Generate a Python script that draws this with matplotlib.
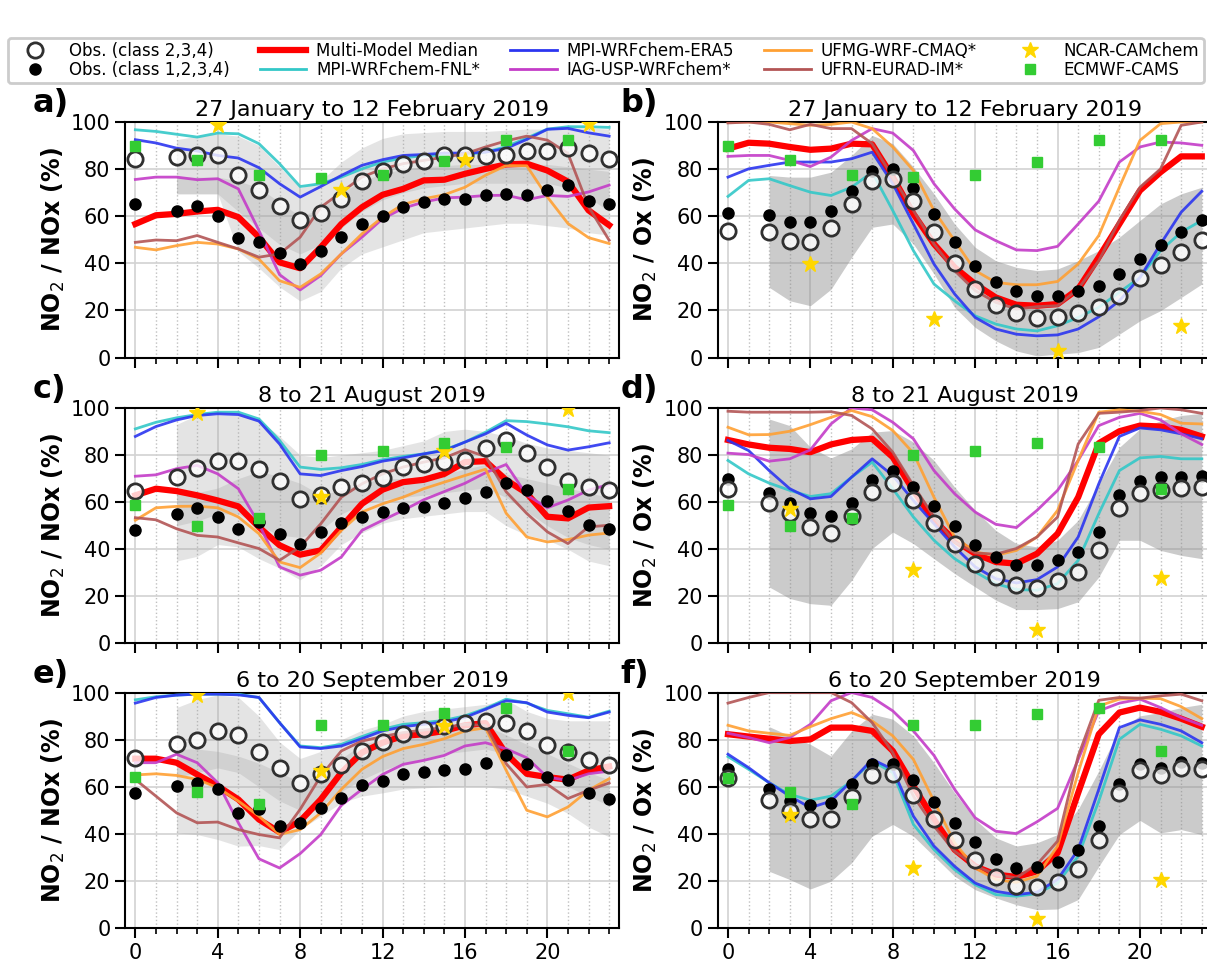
"""Diurnal NO2/NOx and NO2/Ox ratios: observations against the model ensemble."""

import matplotlib
matplotlib.use("Agg")
import matplotlib.pyplot as plt
import numpy as np
from matplotlib.lines import Line2D

nan = np.nan

# Hours of the day and the sparse hours of the global models.
hours = np.arange(24)
band_hours = np.arange(2, 24)
ncar_hours_jan = [4, 10, 16, 22]
ncar_hours = [3, 9, 15, 21]
cams_hours = [0, 3, 6, 9, 12, 15, 18, 21]

titles = ["27 January to 12 February 2019", "27 January to 12 February 2019",
          "8 to 21 August 2019", "8 to 21 August 2019",
          "6 to 20 September 2019", "6 to 20 September 2019"]
letters = ["a)", "b)", "c)", "d)", "e)", "f)"]

# ---- a) NO2/NOx, Jan-Feb ----
a_obs234 = [84.1, nan, 85.1, 86.2, 86.2, 77.6, 71.2, 64.3, 58.2, 61.3, 67.4, 74.8,
            79.4, 82.3, 83.3, 85.8, 86.2, 85.5, 85.8, 87.5, 87.5, 88.9, 87.0, 84.1]
a_obs1234 = [65.2, nan, 62.1, 64.5, 60.3, 50.8, 49.2, 44.3, 39.7, 45.4, 51.3, 56.5,
             59.9, 63.7, 66.1, 67.5, 67.5, 69.1, 69.5, 69.2, 71.3, 73.2, 66.3, 65.1]
a_median = [56.7, 60.4, 61.0, 62.0, 62.7, 59.6, 51.1, 40.4, 37.9, 46.8, 56.7, 63.8,
            69.1, 71.6, 75.2, 75.5, 78.0, 80.1, 82.0, 82.3, 79.4, 74.7, 62.5, 56.2]
a_fnl = [96.7, 96.0, 94.8, 93.6, 95.3, 95.0, 90.8, 82.3, 72.6, 73.8, 76.6, 80.1,
         83.0, 84.7, 85.8, 85.8, 86.2, 87.2, 89.5, 93.2, 97.0, 98.0, 98.0, 97.7]
a_era5 = [92.5, 91.1, 88.9, 87.7, 85.8, 84.7, 80.6, 73.8, 68.1, 72.6, 77.3, 81.6,
          84.0, 85.8, 86.2, 86.8, 86.8, 87.2, 88.8, 92.6, 96.9, 97.3, 95.4, 94.0]
a_iag = [75.6, 76.6, 76.6, 75.5, 75.9, 71.6, 53.9, 35.2, 28.7, 34.8, 44.0, 51.1,
         58.9, 63.4, 66.0, 67.8, 68.1, 68.8, 68.9, 67.0, 68.8, 68.4, 70.3, 73.2]
a_ufmg = [46.8, 45.7, 47.5, 48.9, 48.2, 46.1, 41.8, 32.6, 29.8, 35.5, 44.0, 52.5,
          59.6, 65.0, 67.4, 69.1, 72.3, 77.4, 81.5, 81.4, 68.2, 56.9, 50.9, 48.4]
a_ufrn = [48.9, 49.9, 49.6, 51.8, 48.9, 46.1, 42.6, 44.0, 51.1, 63.8, 70.2, 76.6,
          80.1, 82.3, 83.7, 85.1, 86.5, 89.4, 92.0, 94.0, 92.3, 86.7, 64.0, 49.8]
a_ncar = [98.6, 71.2, 83.7, 99.1]
a_cams = [89.8, 83.7, 77.3, 76.3, 77.3, 83.4, 92.5, 92.5]
a_band1_hi = [92.5, 94, 95, 94, 90, 81, 72, 75, 83, 89, 93, 95, 95.5, 96, 96, 96,
              96.5, 97, 97, 97.5, 97.5, 97]
a_band1_lo = [69.5, 69.5, 69.5, 62, 55, 48, 44, 48, 55, 62, 67, 70, 72, 73, 74, 74,
              74, 74, 74, 72, 68, 62]
a_band2_hi = [76.6, 76.6, 76.6, 75, 72, 66, 60, 63, 70, 75, 78, 80, 81, 81.5, 82, 82,
              82, 82, 82, 81, 80, 79]
a_band2_lo = [69.5, 69.5, 69.5, 45, 38, 30, 24, 28, 38, 44, 47, 50, 53, 54, 55, 56,
              57, 57, 56, 55, 53, 52]

# ---- b) NO2/Ox, Jan-Feb ----
b_obs234 = [53.9, nan, 53.2, 49.6, 48.9, 55.0, 65.0, 74.9, 75.9, 66.4, 53.2, 40.0,
            29.1, 22.4, 18.9, 16.7, 17.0, 18.9, 21.3, 26.2, 33.8, 39.3, 44.7, 49.9]
b_obs1234 = [61.3, nan, 60.6, 57.4, 57.4, 62.1, 70.6, 79.4, 80.1, 72.0, 61.0, 48.9,
             38.7, 32.2, 28.4, 26.2, 26.2, 28.1, 30.2, 35.5, 41.8, 47.8, 53.5, 58.4]
b_median = [88.7, 91.2, 90.8, 89.4, 88.2, 88.7, 90.8, 90.5, 76.6, 61.0, 48.2, 38.3,
            31.2, 25.5, 22.4, 22.0, 22.7, 29.1, 42.6, 56.7, 70.9, 78.7, 85.4, 85.4]
b_fnl = [68.4, 75.2, 75.9, 73.0, 70.2, 68.8, 72.3, 78.7, 62.4, 45.4, 31.2, 24.1,
         17.7, 14.2, 12.1, 11.3, 13.5, 17.0, 21.3, 27.7, 34.0, 45.4, 53.2, 58.2]
b_era5 = [76.6, 80.1, 81.6, 83.0, 83.0, 83.0, 84.4, 87.2, 73.8, 56.7, 39.7, 27.0,
          17.0, 12.1, 9.9, 9.2, 9.6, 12.1, 17.3, 24.1, 34.0, 48.2, 61.7, 70.6]
b_iag = [85.4, 85.8, 85.8, 83.7, 81.1, 85.1, 92.2, 97.2, 95.3, 87.9, 73.8, 63.1,
         54.2, 49.6, 45.7, 45.4, 47.2, 56.7, 66.4, 83.0, 89.4, 91.5, 91.1, 90.1]
b_ufmg = [100, 100, 100, 99.3, 98.6, 99.0, 100, 97.2, 89.4, 79.4, 62.4, 49.6,
          36.9, 31.9, 30.9, 30.9, 32.3, 39.7, 51.8, 72.3, 92.2, 99.3, 100, 100]
b_ufrn = [99.6, 100, 99.0, 96.7, 99.0, 97.2, 97.2, 90.8, 76.6, 62.4, 48.2, 36.9,
          28.4, 23.4, 20.6, 21.6, 22.0, 29.1, 41.1, 58.2, 72.3, 80.1, 98.6, 100]
b_ncar = [39.7, 16.3, 2.8, 13.5]
b_cams = [89.8, 83.7, 77.3, 76.6, 77.3, 83.0, 92.5, 92.5]
b_band_hi = [77.3, 76.6, 76.6, 78.7, 85.8, 94.3, 90.8, 80.9, 69.5, 56.7, 46.8, 41.1,
             38.3, 36.9, 37.6, 41.1, 45.4, 51.1, 58.2, 65.2, 69.5, 72.3]
b_band_lo = [29.8, 24.1, 22.0, 29.0, 42.6, 55.3, 56.7, 48.2, 35.5, 21.3, 12.8, 7.1,
             2.8, 0.7, 1.4, 2.1, 4.3, 9.9, 15.6, 19.9, 25.5, 31.2]

# ---- c) NO2/NOx, August ----
c_obs234 = [64.7, nan, 70.6, 74.4, 77.3, 77.3, 74.2, 68.8, 61.4, 62.9, 66.4, 68.2,
            70.3, 74.9, 76.0, 77.0, 78.0, 82.9, 86.6, 80.8, 74.9, 68.8, 66.4, 65.1]
c_obs1234 = [48.3, nan, 54.8, 57.6, 53.7, 48.7, 51.6, 46.3, 42.4, 47.3, 51.3, 53.7,
             55.8, 57.6, 57.9, 59.6, 61.9, 64.3, 68.1, 65.3, 60.5, 56.2, 50.2, 48.4]
c_median = [62.9, 65.7, 64.7, 62.9, 60.7, 58.2, 49.4, 41.7, 37.7, 39.5, 49.4, 59.3,
            65.3, 68.5, 69.5, 72.0, 77.0, 77.4, 69.4, 63.8, 53.8, 53.1, 57.7, 58.3]
c_fnl = [91.1, 93.9, 95.8, 97.2, 98.2, 98.2, 95.3, 86.2, 74.9, 73.9, 74.6, 76.0,
         78.0, 79.4, 80.5, 82.2, 85.5, 89.7, 94.6, 94.2, 93.2, 92.0, 90.3, 89.5]
c_era5 = [87.9, 92.1, 94.9, 96.8, 97.5, 97.2, 94.4, 84.7, 72.0, 71.3, 73.4, 75.1,
          77.4, 78.8, 80.5, 81.9, 85.5, 89.0, 93.5, 88.5, 84.3, 82.1, 83.5, 85.2]
c_iag = [71.0, 71.6, 74.2, 75.6, 72.0, 65.7, 50.8, 32.5, 29.0, 31.1, 36.7, 48.0,
         52.3, 56.5, 61.0, 64.5, 68.0, 72.5, 76.0, 63.0, 57.6, 60.9, 65.1, 67.5]
c_ufmg = [52.3, 57.6, 58.2, 58.3, 57.6, 53.7, 46.6, 34.6, 32.2, 38.4, 48.0, 55.8,
          59.3, 62.1, 65.7, 68.5, 71.3, 74.0, 55.3, 45.2, 43.1, 44.1, 46.0, 46.9]
c_ufrn = [53.4, 52.5, 48.7, 45.9, 45.2, 42.7, 40.3, 35.3, 41.0, 50.8, 62.1, 67.8,
          72.0, 74.9, 77.0, 78.8, 82.3, 79.4, 64.4, 55.2, 47.4, 42.4, 49.5, 50.2]
c_ncar = [97.9, 62.1, 81.9, 99.6]
c_cams = [58.6, 49.7, 53.4, 80.2, 81.9, 85.0, 83.6, 65.7]
c_band1_hi = [93, 97, 97, 97, 95, 88, 80, 79, 80, 81, 82, 84, 86, 90, 91, 90, 88,
              85, 83, 82, 81, 80]
c_band1_lo = [50, 52, 55, 55, 50, 46, 45, 48, 55, 59, 61, 62, 63, 64, 65, 66, 62,
              56, 50, 45, 42, 40]
c_band2_hi = [64, 64, 66, 70, 73, 71, 68, 63, 65, 68, 70, 70, 71, 72, 74, 76, 72,
              70, 68, 66, 64, 62]
c_band2_lo = [35, 37, 42, 41, 36, 32, 27, 33, 42, 47, 51, 53, 54, 55, 56, 56, 50,
              46, 44, 40, 35, 33]

# ---- d) NO2/Ox, August ----
d_obs234 = [65.7, nan, 59.6, 55.4, 49.4, 47.0, 54.1, 64.3, 68.2, 60.7, 51.1, 42.1,
            33.9, 28.2, 24.7, 23.7, 26.6, 30.4, 39.5, 57.5, 63.8, 65.3, 66.1, 66.4]
d_obs1234 = [69.9, nan, 64.0, 59.6, 55.4, 54.0, 59.6, 69.2, 73.4, 66.4, 58.2, 49.7,
             41.9, 36.7, 33.2, 33.2, 35.6, 38.8, 47.3, 62.9, 68.8, 70.6, 70.6, 70.9]
d_median = [86.4, 84.5, 83.1, 82.6, 81.2, 84.5, 86.4, 86.9, 79.1, 65.0, 52.3, 43.8,
            38.1, 34.6, 33.9, 38.1, 46.6, 62.1, 85.0, 90.1, 92.5, 92.1, 90.7, 87.9]
d_fnl = [77.7, 72.0, 68.1, 65.0, 62.4, 63.6, 70.6, 77.0, 65.7, 53.7, 43.8, 36.0,
         30.4, 25.4, 22.9, 22.6, 25.4, 35.3, 55.1, 73.4, 78.8, 79.4, 78.4, 78.4]
d_era5 = [86.2, 81.9, 73.4, 65.7, 61.4, 62.4, 70.6, 78.4, 71.3, 60.7, 50.8, 41.0,
          32.5, 27.5, 25.7, 27.1, 32.5, 45.2, 67.8, 87.9, 91.5, 90.7, 89.0, 86.9]
d_iag = [80.8, 80.2, 77.4, 78.4, 82.2, 93.2, 100, 99.2, 93.9, 86.9, 73.4, 63.6,
         55.8, 50.6, 49.2, 56.5, 65.0, 77.7, 92.5, 96.0, 97.7, 94.9, 89.0, 84.5]
d_ufmg = [91.8, 88.6, 88.7, 90.1, 92.9, 96.0, 98.9, 96.3, 90.4, 80.8, 62.1, 45.2,
          38.8, 37.4, 39.5, 45.2, 56.5, 77.7, 98.2, 99.2, 98.6, 97.2, 93.5, 93.2]
d_ufrn = [98.6, 98.2, 98.2, 98.2, 98.2, 98.4, 96.8, 91.1, 81.2, 67.1, 53.7, 43.1,
          38.4, 37.9, 40.3, 45.2, 53.7, 84.7, 97.7, 98.2, 98.9, 100, 99.2, 97.7]
d_ncar = [57.2, 31.1, 5.9, 28.0]
d_cams = [58.6, 49.7, 53.4, 80.2, 81.9, 85.0, 83.6, 65.7]
d_band_hi = [95.3, 92.5, 83.3, 78.8, 82.6, 89.7, 90.4, 85.5, 77.7, 66.4, 56.5, 48.0,
             42.4, 41.0, 43.8, 52.3, 67.8, 83.3, 91.1, 94.6, 96.8, 97.7]
d_band_lo = [24.0, 19.1, 16.9, 16.2, 26.8, 40.3, 47.3, 42.4, 36.0, 29.7, 24.0, 18.4,
             14.4, 14.4, 14.8, 17.7, 28.2, 43.8, 43.8, 39.5, 37.4, 36.0]

# ---- e) NO2/NOx, September ----
e_obs234 = [72.3, nan, 78.3, 79.9, 83.7, 81.8, 74.8, 67.8, 61.4, 65.5, 69.2, 75.2,
            79.1, 82.3, 84.7, 85.8, 87.0, 87.9, 87.0, 83.7, 77.7, 74.8, 71.2, 69.4]
e_obs1234 = [57.2, nan, 60.3, 61.4, 59.1, 48.9, 50.4, 43.5, 44.7, 51.1, 55.3, 60.6,
             62.4, 65.2, 66.2, 67.1, 67.7, 69.9, 73.3, 69.5, 64.3, 62.8, 57.3, 55.0]
e_median = [71.9, 71.9, 70.2, 65.2, 60.3, 54.6, 46.1, 40.7, 45.4, 54.6, 66.0, 74.5,
            78.7, 81.6, 82.3, 83.7, 86.1, 87.0, 74.0, 65.5, 64.1, 63.0, 66.9, 68.6]
e_fnl = [96.9, 98.2, 98.9, 99.3, 99.3, 99.3, 97.9, 87.2, 77.3, 76.6, 78.0, 81.3,
         84.4, 86.5, 87.2, 88.2, 90.1, 93.2, 97.2, 95.5, 92.4, 91.0, 89.5, 92.1]
e_era5 = [95.5, 97.9, 98.9, 99.3, 99.3, 99.0, 97.9, 87.2, 76.9, 76.2, 77.3, 80.4,
          83.7, 85.5, 86.5, 87.5, 89.4, 92.9, 96.5, 95.7, 91.7, 90.3, 89.3, 91.7]
e_iag = [70.2, 70.2, 73.8, 70.2, 61.7, 44.7, 29.4, 25.5, 31.6, 39.7, 52.1, 58.9,
         65.2, 69.5, 71.2, 73.3, 77.3, 78.7, 76.1, 72.3, 64.1, 62.7, 65.5, 66.6]
e_ufmg = [65.0, 65.5, 64.8, 63.1, 59.6, 53.9, 47.5, 39.7, 41.8, 48.9, 58.9, 67.4,
          72.8, 76.2, 78.0, 80.4, 83.7, 85.0, 67.0, 50.0, 47.2, 51.4, 58.5, 63.4]
e_ufrn = [63.1, 56.0, 48.9, 44.7, 45.0, 41.8, 39.7, 38.3, 50.4, 64.5, 75.2, 79.4,
          81.3, 83.0, 84.1, 85.1, 86.5, 86.0, 69.8, 59.9, 61.0, 55.0, 58.5, 61.6]
e_ncar = [98.9, 66.7, 85.8, 99.6]
e_cams = [64.1, 57.7, 52.8, 86.1, 86.4, 91.1, 93.6, 75.2]
e_band1_hi = [93.6, 97, 99, 98, 90, 79, 72, 75, 80, 84, 86.5, 90, 92, 93, 94, 95,
              97, 92, 89, 88, 88, 88]
e_band1_lo = [64, 66, 68, 66, 60, 54, 50, 52, 58, 63, 67, 70, 72, 74, 75, 76, 74,
              70, 66, 60, 56, 52]
e_band2_hi = [76, 76, 75, 73, 70, 66, 62, 65, 72, 78, 80, 82, 84, 85, 86, 86, 82,
              78, 74, 70, 66, 63]
e_band2_lo = [40.4, 39.7, 37.6, 34.8, 35, 33.3, 41.8, 47.5, 53.2, 56, 57.4, 59, 59.5,
              60, 60, 60, 59, 56, 53, 48.7, 42.9, 38.7]

# ---- f) NO2/Ox, September ----
f_obs234 = [63.8, nan, 54.3, 49.6, 46.5, 46.1, 55.7, 64.8, 65.2, 56.7, 46.1, 37.3,
            29.1, 21.7, 17.7, 17.4, 19.6, 25.2, 37.3, 57.2, 67.1, 64.8, 68.1, 67.4]
f_obs1234 = [67.4, nan, 59.1, 53.9, 52.1, 52.9, 61.0, 69.5, 69.5, 62.8, 53.6, 44.7,
             36.5, 29.4, 25.5, 26.0, 28.1, 33.3, 43.3, 61.0, 69.5, 68.1, 70.5, 70.2]
f_median = [82.3, 81.3, 80.4, 79.4, 80.1, 85.1, 85.1, 83.7, 75.2, 60.3, 46.1, 33.3,
            26.2, 22.7, 21.7, 24.1, 31.9, 57.4, 82.3, 91.5, 93.6, 91.8, 88.9, 85.5]
f_fnl = [72.8, 67.4, 61.7, 56.7, 54.3, 56.0, 62.4, 70.9, 66.0, 44.0, 33.3, 24.8,
         18.4, 14.2, 13.5, 14.6, 19.1, 30.5, 53.9, 80.1, 86.5, 84.4, 81.6, 77.3]
f_era5 = [73.8, 68.1, 61.7, 56.0, 51.1, 53.9, 62.4, 71.6, 67.4, 47.5, 34.8, 26.2,
          19.1, 15.6, 14.2, 15.2, 20.6, 33.3, 58.9, 85.1, 88.4, 86.5, 83.7, 78.7]
f_iag = [82.7, 80.9, 78.7, 80.9, 86.5, 96.5, 100, 97.9, 92.2, 83.7, 73.3, 58.9,
         46.8, 41.1, 40.1, 45.1, 50.8, 71.6, 92.2, 95.5, 97.2, 93.6, 89.4, 86.1]
f_ufmg = [86.1, 83.7, 82.7, 81.8, 85.5, 88.9, 91.5, 87.9, 81.6, 71.6, 53.9, 36.2,
          25.5, 20.6, 19.4, 22.0, 34.8, 66.0, 94.3, 97.2, 97.6, 97.4, 94.0, 88.9]
f_ufrn = [95.5, 97.9, 100, 100, 100, 100, 95.7, 87.2, 74.5, 56.0, 43.3, 32.6,
          26.5, 22.7, 21.3, 27.0, 36.9, 73.0, 96.7, 97.9, 97.6, 98.6, 99.3, 96.5]
f_ncar = [48.2, 25.5, 3.8, 20.6]
f_cams = [63.8, 57.7, 52.5, 86.1, 86.4, 90.8, 93.6, 75.2]
f_band_hi = [85.5, 81.6, 78.0, 73.0, 83.7, 90.8, 88.7, 81.6, 70.2, 57.4, 46.1, 38.3,
             34.8, 36.2, 39.7, 50.4, 66.7, 84.4, 90.1, 91.5, 93.6, 95.0]
f_band_lo = [24.1, 20.6, 16.6, 19.9, 27.7, 39.0, 44.0, 39.0, 30.5, 22.0, 16.3, 12.8,
             9.9, 7.8, 8.1, 12.1, 26.2, 39.7, 45.7, 40.4, 41.8, 39.7]

MODEL_COLORS = ["#33c8c8", "#2b35f0", "#c43cc8", "#ffa033", "#b35555"]
MODEL_LABELS = ["MPI-WRFchem-FNL*", "MPI-WRFchem-ERA5", "IAG-USP-WRFchem*",
                "UFMG-WRF-CMAQ*", "UFRN-EURAD-IM*"]

panels = [
    (a_obs234, a_obs1234, a_median, [a_fnl, a_era5, a_iag, a_ufmg, a_ufrn],
     ncar_hours_jan, a_ncar, a_cams,
     [(a_band1_lo, a_band1_hi), (a_band2_lo, a_band2_hi)]),
    (b_obs234, b_obs1234, b_median, [b_fnl, b_era5, b_iag, b_ufmg, b_ufrn],
     ncar_hours_jan, b_ncar, b_cams, [(b_band_lo, b_band_hi)]),
    (c_obs234, c_obs1234, c_median, [c_fnl, c_era5, c_iag, c_ufmg, c_ufrn],
     ncar_hours, c_ncar, c_cams,
     [(c_band1_lo, c_band1_hi), (c_band2_lo, c_band2_hi)]),
    (d_obs234, d_obs1234, d_median, [d_fnl, d_era5, d_iag, d_ufmg, d_ufrn],
     ncar_hours, d_ncar, d_cams, [(d_band_lo, d_band_hi)]),
    (e_obs234, e_obs1234, e_median, [e_fnl, e_era5, e_iag, e_ufmg, e_ufrn],
     ncar_hours, e_ncar, e_cams,
     [(e_band1_lo, e_band1_hi), (e_band2_lo, e_band2_hi)]),
    (f_obs234, f_obs1234, f_median, [f_fnl, f_era5, f_iag, f_ufmg, f_ufrn],
     ncar_hours, f_ncar, f_cams, [(f_band_lo, f_band_hi)]),
]

OPEN_KW = dict(marker="o", ls="none", mfc=(1, 1, 1, 0.8), mec="#303030", mew=2, ms=11)
DOT_KW = dict(marker="o", ls="none", color="black", ms=8)
STAR_KW = dict(marker="*", ls="none", color="gold", ms=12)
SQUARE_KW = dict(marker="s", ls="none", color="#33cc33", ms=6.5)

fig = plt.figure(figsize=(12.07, 9.66), dpi=100)

# Axes positions (the right column runs slightly past the figure edge).
col_left = [0.1036, 0.5946]
row_bottom = [0.6299, 0.3339, 0.0393]
width, height = 0.4096, 0.2438

for i, (obs234, obs1234, median, models, ncar_x, ncar, cams, bands) in enumerate(panels):
    row, col = divmod(i, 2)
    ax = fig.add_axes([col_left[col], row_bottom[row], width, height])

    # Observation spread.
    if len(bands) == 1:
        lo, hi = bands[0]
        ax.fill_between(band_hours, lo, hi, color="#8c8c8c", alpha=0.45, lw=0, zorder=1)
    else:
        for lo, hi in bands:
            ax.fill_between(band_hours, lo, hi, color="#a0a0a0", alpha=0.28, lw=0, zorder=1)

    ax.plot(hours, median, color="red", lw=4.5, zorder=3)
    for vals, color in zip(models, MODEL_COLORS):
        ax.plot(hours, vals, color=color, lw=2, alpha=0.9, zorder=3)
    ax.plot(hours, obs1234, zorder=5, **DOT_KW)
    ax.plot(hours, obs234, zorder=6, **OPEN_KW)
    ax.plot(ncar_x, ncar, zorder=7, **STAR_KW)
    ax.plot(cams_hours, cams, zorder=7, **SQUARE_KW)

    ax.set_xlim(-0.5, 23.5)
    ax.set_ylim(0, 100)
    ax.set_xticks(range(0, 24, 4))
    ax.set_xticks(range(24), minor=True)
    ax.set_yticks(range(0, 101, 20))
    ax.set_axisbelow(True)
    ax.grid(which="major", color="#d2d2d2", lw=1.2)
    ax.grid(which="minor", axis="x", color="#c0c0c0", ls=":", lw=1)
    ax.tick_params(which="major", length=7, width=1.5, labelsize=15)
    ax.tick_params(which="minor", length=4, width=1.2)
    if row < 2:
        ax.tick_params(labelbottom=False)
    for spine in ax.spines.values():
        spine.set_linewidth(1.5)

    ax.set_title(titles[i], fontsize=16, pad=4)
    ylabel = r"NO$_2$ / NOx (%)" if col == 0 else r"NO$_2$ / Ox (%)"
    ax.set_ylabel(ylabel, fontsize=17, fontweight="bold", labelpad=3)

    fig.text([0.027, 0.514][col], [0.884, 0.588, 0.293][row], letters[i],
             fontsize=23, fontweight="bold")

# Shared legend across the top.
handles = [
    Line2D([], [], **OPEN_KW),
    Line2D([], [], **DOT_KW),
    Line2D([], [], color="red", lw=4.5),
    Line2D([], [], color=MODEL_COLORS[0], lw=2),
    Line2D([], [], color=MODEL_COLORS[1], lw=2),
    Line2D([], [], color=MODEL_COLORS[2], lw=2),
    Line2D([], [], color=MODEL_COLORS[3], lw=2),
    Line2D([], [], color=MODEL_COLORS[4], lw=2),
    Line2D([], [], **STAR_KW),
    Line2D([], [], **SQUARE_KW),
]
labels = ["Obs. (class 2,3,4)", "Obs. (class 1,2,3,4)", "Multi-Model Median",
          MODEL_LABELS[0], MODEL_LABELS[1], MODEL_LABELS[2], MODEL_LABELS[3],
          MODEL_LABELS[4], "NCAR-CAMchem", "ECMWF-CAMS"]
leg = fig.legend(handles, labels, loc="upper left", bbox_to_anchor=(0.0066, 0.9607),
                 ncol=5, fontsize=12, handlelength=2.8, handletextpad=0.6,
                 columnspacing=1.8, borderaxespad=0, borderpad=0.25, labelspacing=0.05,
                 framealpha=1)
leg.get_frame().set_edgecolor("#cccccc")
leg.get_frame().set_linewidth(2)

fig.savefig("out.png", dpi=100)
